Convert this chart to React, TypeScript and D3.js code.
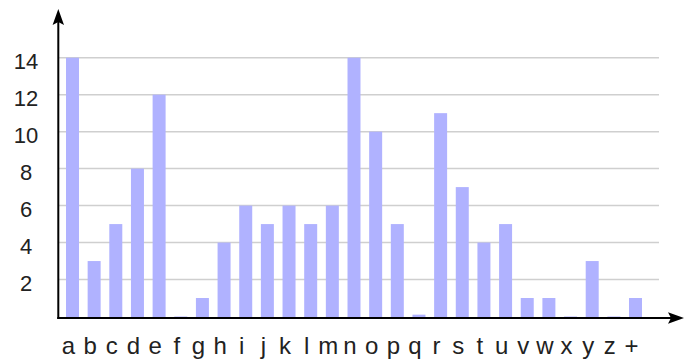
import React from "react";
import * as d3 from "d3";

const categories = ["a","b","c","d","e","f","g","h","i","j","k","l","m","n","o","p","q","r","s","t","u","v","w","x","y","z","+"];
const values = [14,3,5,8,12,0,1,4,6,5,6,5,6,14,10,5,0.1,11,7,4,5,1,1,0,3,0,1];
const yTicks = [2,4,6,8,10,12,14];

const W = 684, H = 359;
const axisX = 58.3, axisY = 318;

export default function App() {
  const x = d3.scaleBand<string>().domain(categories).range([58, 650]).paddingInner(0.4).paddingOuter(0.369);
  const y = d3.scaleLinear().domain([0, 14]).range([316.5, 57.7]);
  const font = "'Liberation Sans', Arial, Helvetica, sans-serif";
  return (
    <svg width={W} height={H} style={{ position: "absolute", left: 0, top: 0 }} xmlns="http://www.w3.org/2000/svg">
      <rect width={W} height={H} fill="#fff" />
      {yTicks.map((t) => (
        <line key={"g" + t} x1={axisX} x2={659} y1={y(t)} y2={y(t)} stroke="#cfcfcf" strokeWidth={1.5} />
      ))}
      {categories.map((c, i) => (
        <rect key={"b" + c} x={x(c)} y={y(values[i])} width={x.bandwidth()} height={axisY - y(values[i])} fill="#b0b2ff" />
      ))}
      {yTicks.map((t) => (
        <text key={"t" + t} x={26} y={y(t) + 11.6} textAnchor="middle" fontFamily={font} fontSize={22} fill="#222">{t}</text>
      ))}
      {categories.map((c) => (
        <text key={"l" + c} x={(x(c) as number) + x.bandwidth() / 2 - 4} y={354} textAnchor="middle" fontFamily={font} fontSize={24} fill="#222">{c}</text>
      ))}
      <line x1={axisX} x2={axisX} y1={22} y2={axisY + 1} stroke="#000" strokeWidth={2} />
      <path d={`M${axisX},9 L${axisX + 5.7},25 L${axisX},22 L${axisX - 5.7},25 Z`} fill="#000" />
      <line x1={axisX - 1} x2={672} y1={axisY} y2={axisY} stroke="#000" strokeWidth={2} />
      <path d={`M684,${axisY} L668,${axisY - 5.7} L671,${axisY} L668,${axisY + 5.7} Z`} fill="#000" />
    </svg>
  );
}
